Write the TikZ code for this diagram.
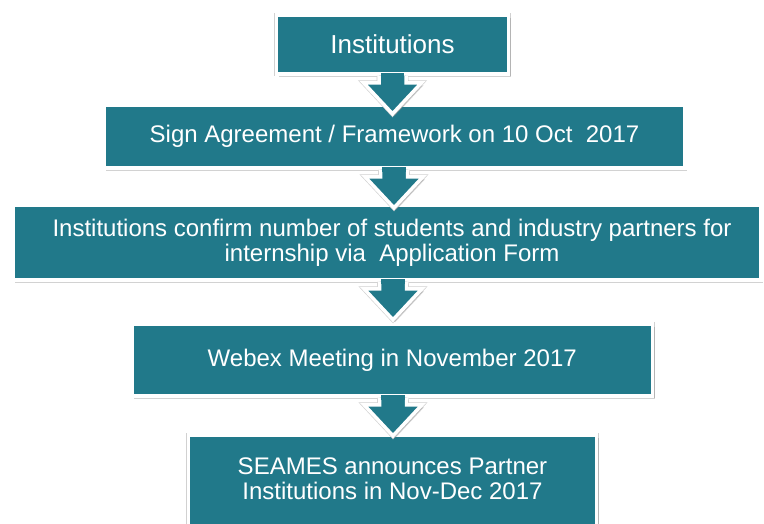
\documentclass[tikz,border=0pt]{standalone}
\usepackage{fontspec}
\setmainfont{Liberation Sans}
\usetikzlibrary{shadows}
\definecolor{tealbox}{RGB}{33,121,138}
\tikzset{
  rim/.style={preaction={draw=black!18, line width=4.8pt}},
  panel/.style={fill=tealbox, draw=white, line width=3.5pt, line join=miter, rim,
    drop shadow={shadow xshift=2pt, shadow yshift=-2.5pt, opacity=0.35},
    text=white, align=center, inner sep=0pt, font=\fontsize{24}{25}\selectfont},
  arrowpanel/.style={fill=tealbox, draw=white, line width=3.5pt, line join=miter, rim,
    drop shadow={shadow xshift=2pt, shadow yshift=-2.5pt, opacity=0.35}},
  lbl/.style={text=white, align=center, inner sep=0pt, font=\fontsize{24}{25}\selectfont},
}
\newcommand\calloutarrow[1]{%
  \draw[arrowpanel] ([xshift=-13.5pt]#1) -- ++(0,7) -- ++(-15.5,0) -- ++(29,31)
     -- ++(29,-31) -- ++(-15.5,0) -- ++(0,-7);
  \fill[tealbox] ([xshift=-11.75pt,yshift=2.5pt]#1) rectangle ([xshift=11.75pt,yshift=-2.5pt]#1);
}
\begin{document}
\begin{tikzpicture}[x=1pt,y=-1pt]
\clip (0,0) rectangle (764,523);
\fill[white] (0,0) rectangle (764,523);
% box 5
\node[panel, minimum width=408pt, minimum height=105pt] (b5) at (392.5,487.5) {};
\node[lbl] (t5) at (392.5,478.5) {SEAMES announces Partner\\Institutions in Nov-Dec 2017};
% box 4
\node[panel, minimum width=520.5pt, minimum height=72pt] (b4) at (392.25,360) {Webex Meeting in November 2017};
\path (393,0 |- b4.south) coordinate (s4);
\calloutarrow{s4}
% box 3
\node[panel, minimum width=748pt, minimum height=75pt] (b3) at (387,242.5)
  {\hspace*{10pt}Institutions confirm number of students and industry partners for\\\hspace*{10pt}internship via~ Application Form};
\path (393,0 |- b3.south) coordinate (s3);
\calloutarrow{s3}
% box 2
\node[panel, minimum width=581pt, minimum height=63pt] (b2) at (394.5,136.5) {Sign Agreement / Framework on 10 Oct~ 2017};
\path (394,0 |- b2.south) coordinate (s2);
\calloutarrow{s2}
% box 1
\node[panel, minimum width=232pt, minimum height=59pt, font=\fontsize{26}{28}\selectfont] (b1) at (392.5,44.5) {Institutions};
\path (392.5,0 |- b1.south) coordinate (s1);
\calloutarrow{s1}
\end{tikzpicture}
\end{document}
